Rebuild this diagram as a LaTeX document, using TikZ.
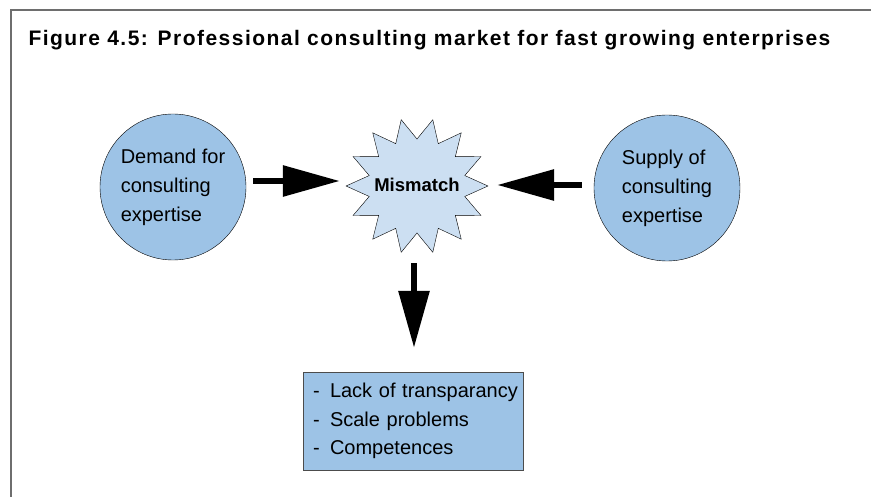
\documentclass[tikz,border=0pt]{standalone}
\usepackage{fontspec}
\setmainfont{Liberation Sans}
\newfontfamily\titlefont[LetterSpace=7]{Liberation Sans}
\usetikzlibrary{arrows.meta}
\usetikzlibrary{positioning}

\definecolor{circblue}{RGB}{157,195,230}
\definecolor{starblue}{RGB}{204,223,242}
\definecolor{framegray}{RGB}{110,110,110}

\tikzset{
  market/.style={draw,circle,fill=circblue,minimum size=146pt,inner sep=0pt,align=left,font=\fontsize{20}{29}\selectfont},
  blockarrow/.style={line width=6pt,-{Triangle[length=57pt,width=30pt]}},
}

\begin{document}
\begin{tikzpicture}[x=1pt,y=-1pt]
		\useasboundingbox (0,0) rectangle (871,497);
		\draw[framegray,line width=1.5pt] (11,497) -- (11,10) -- (871,10);
		\node[anchor=base west,font=\titlefont\bfseries\fontsize{21}{24}\selectfont](title) at (25,46) {Figure 4.5: Professional consulting market for fast growing enterprises};
		\node[market](dem) at (173,187) {Demand for\\consulting\\expertise};
		\node[market](sup) at (667,188) {Supply of\\consulting\\expertise};
		% the star is drawn by hand, the node only holds the text
		\draw[fill=starblue,shift={(417,186)}] (180:71)
			\foreach \k in {0,...,13} { -- ({180+\k*360/14}:{71} and {68}) -- ({180+\k*360/14+360/28}:{49} and {47}) } -- cycle;
		\node[circle,minimum size=140pt,inner sep=0pt,font=\bfseries\fontsize{18.5}{20}\selectfont](mis) at (417,185) {Mismatch};
		\node[draw=black!70,fill=circblue,text width=210pt,inner xsep=5pt,minimum height=98pt,align=left,font=\fontsize{20}{28.5}\selectfont](prob) at (413,421) {\makebox[22pt][l]{\hspace*{5pt}-}Lack of transparancy\\\makebox[22pt][l]{\hspace*{5pt}-}Scale problems\\\makebox[22pt][l]{\hspace*{5pt}-}Competences};
		\draw[blockarrow,shorten <=7pt,shorten >=7pt] ([yshift=6pt]dem.east) -- ([yshift=6pt]dem.east -| mis.west);
		\draw[blockarrow,shorten <=12pt,shorten >=10pt] ([yshift=3pt]sup.west) -- ([yshift=3pt]sup.west -| mis.east);
		\draw[blockarrow,shorten <=8pt,shorten >=24pt] ([xshift=-3pt]mis.south) -- ([xshift=-3pt]mis.south |- prob.north);
	\end{tikzpicture}
\end{document}
